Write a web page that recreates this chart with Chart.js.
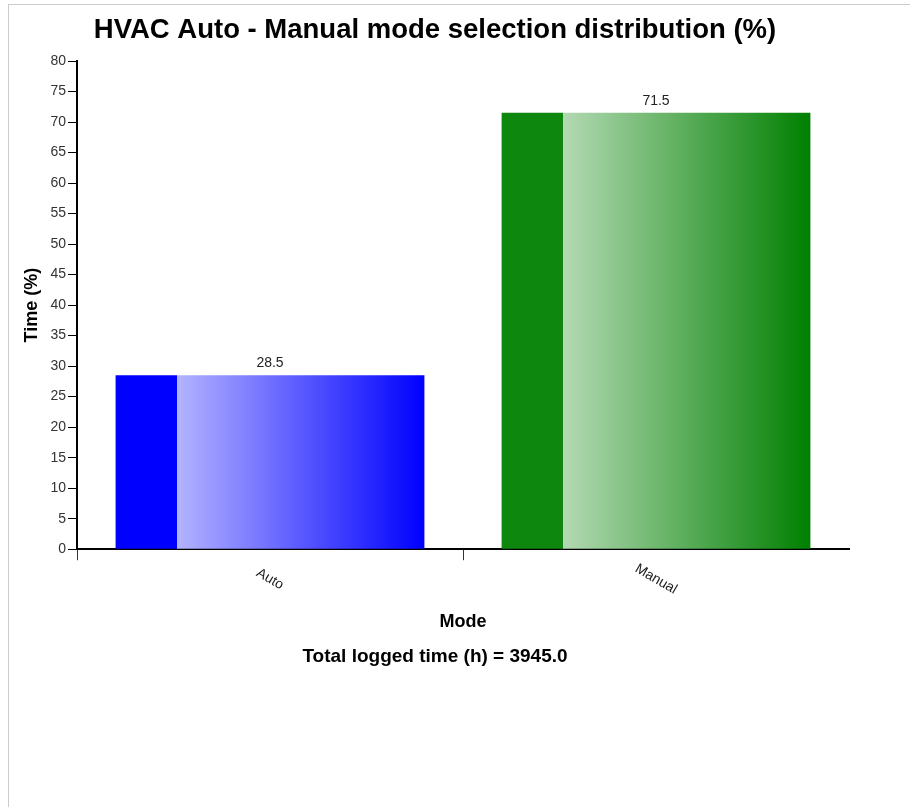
<!DOCTYPE html>
<html>
<head>
<meta charset="utf-8">
<script src="https://cdn.jsdelivr.net/npm/chart.js@4"></script>
<style>
  body { margin: 0; background: #fff; }
  #wrap { position: absolute; left: 8px; top: 4px; width: 1100px; height: 900px; border: 1px solid #ccc; }
  #chart { position: absolute; left: 0; top: 0; }
</style>
</head>
<body>
<div id="wrap"><canvas id="chart" width="852" height="680"></canvas></div>
<script>
const modes = ["Auto", "Manual"];
const timeShare = [28.5, 71.5];
const totalHours = 3945.0;
const solidColors = ["#0000ff", "#0e870e"];
const lightColors = ["#b3b3ff", "#b3d9b3"];
const darkColors = ["#0000ff", "#008000"];

const FONT = 'Arial, "Liberation Sans", sans-serif';

function barFill(ctx) {
  const chart = ctx.chart;
  const xs = chart.scales.x;
  if (!chart.chartArea || !xs) return solidColors[ctx.dataIndex];
  const cx = xs.getPixelForValue(ctx.dataIndex);
  const w = (xs.right - xs.left) / modes.length * 0.8;
  const g = chart.ctx.createLinearGradient(cx - w / 2, 0, cx + w / 2, 0);
  const i = ctx.dataIndex;
  g.addColorStop(0, solidColors[i]);
  g.addColorStop(0.198, solidColors[i]);
  g.addColorStop(0.199, lightColors[i]);
  g.addColorStop(1, darkColors[i]);
  return g;
}

// value labels above bars and slanted category labels
const labelPlugin = {
  id: "labels",
  afterDatasetsDraw(chart) {
    const ctx = chart.ctx;
    const meta = chart.getDatasetMeta(0);
    ctx.save();
    ctx.fillStyle = "#222";
    ctx.font = "14px " + FONT;
    ctx.textAlign = "center";
    ctx.textBaseline = "middle";
    meta.data.forEach((bar, i) => {
      ctx.fillText(timeShare[i].toFixed(1), bar.x, bar.y - 12);
    });
    ctx.restore();
  },
  afterDraw(chart) {
    const ctx = chart.ctx;
    const xs = chart.scales.x;
    ctx.save();
    ctx.fillStyle = "#222";
    ctx.font = "14px " + FONT;
    ctx.textAlign = "center";
    ctx.textBaseline = "middle";
    modes.forEach((m, i) => {
      ctx.save();
      ctx.translate(xs.getPixelForTick(i), xs.top + 30);
      ctx.rotate(Math.PI / 6);
      ctx.fillText(m, 0, 0);
      ctx.restore();
    });
    ctx.restore();
  }
};

new Chart(document.getElementById("chart"), {
  type: "bar",
  data: {
    labels: modes,
    datasets: [{
      data: timeShare,
      backgroundColor: barFill,
      borderWidth: 0,
      barPercentage: 0.8,
      categoryPercentage: 1.0
    }]
  },
  options: {
    responsive: false,
    animation: false,
    devicePixelRatio: 1,
    layout: { padding: 0 },
    plugins: {
      legend: { display: false },
      tooltip: { enabled: false },
      title: {
        display: true,
        text: "HVAC Auto - Manual mode selection distribution (%)",
        color: "#000",
        font: { family: FONT, size: 27.5, weight: "bold" },
        padding: { top: 9, bottom: 14 }
      },
      subtitle: {
        display: true,
        position: "bottom",
        text: "Total logged time (h) = " + totalHours.toFixed(1),
        color: "#000",
        font: { family: FONT, size: 19, weight: "bold" },
        padding: { top: 0, bottom: 17 }
      }
    },
    scales: {
      x: {
        offset: true,
        afterFit: s => { s.height = 96; },
        grid: {
          offset: true,
          drawOnChartArea: false,
          tickLength: 11,
          // no tick mark at the far right end of the axis
          color: c => (c.type === "tick" ? "#333" : "transparent")
        },
        border: { color: "#000", width: 2 },
        ticks: { display: false },
        title: {
          display: true,
          text: "Mode",
          color: "#000",
          font: { family: FONT, size: 18, weight: "bold" },
          padding: { top: 4, bottom: 12 }
        }
      },
      y: {
        min: 0,
        max: 80,
        afterFit: s => { s.width = 68; },
        grid: { drawOnChartArea: false, tickLength: 9, color: "#000" },
        border: { color: "#000", width: 2 },
        ticks: { stepSize: 5, color: "#333", padding: 2, font: { family: FONT, size: 14 } },
        title: {
          display: true,
          text: "Time (%)",
          color: "#000",
          font: { family: FONT, size: 18, weight: "bold" },
          padding: { top: 12, bottom: 0 }
        }
      },
      // empty right-hand spacer so the plot stops short of the canvas edge
      spacer: {
        type: "linear",
        position: "right",
        afterFit: s => { s.width = 12; },
        grid: { display: false },
        border: { display: false },
        ticks: { display: false }
      }
    }
  },
  plugins: [labelPlugin]
});
</script>
</body>
</html>
